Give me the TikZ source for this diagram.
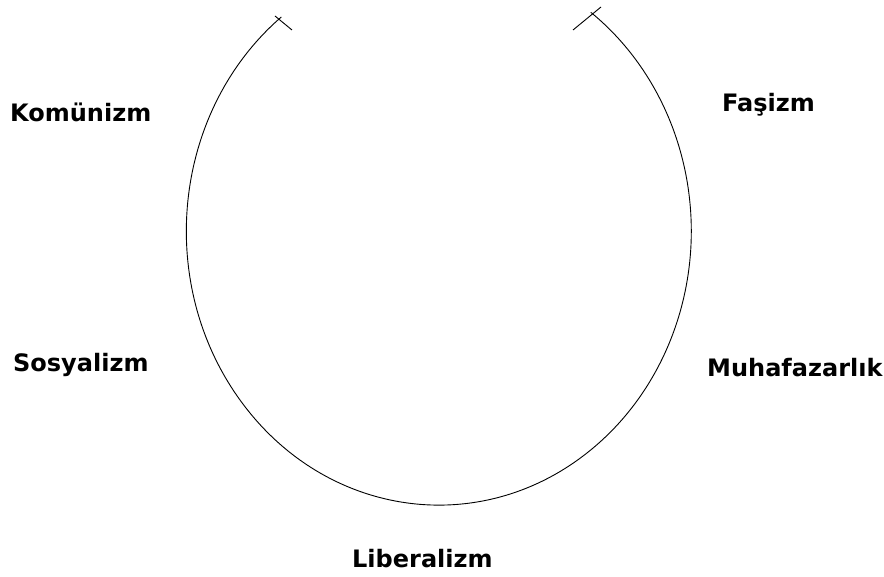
\documentclass[tikz,border=0pt]{standalone}
\usepackage{fontspec}
\setmainfont{DejaVu Sans}
\begin{document}
\begin{tikzpicture}[x=1pt,y=1pt,
  lbl/.style={anchor=base west,inner sep=0pt,font=\fontsize{24}{28}\selectfont\bfseries},
  curve/.style={line width=0.9pt,black}]
\useasboundingbox (0,0) rectangle (884,-577);
\fill[white] (0,0) rectangle (884,-577);
\coordinate (L) at (281.3,-17);
\coordinate (R) at (590.5,-14);
\draw[curve] (L) arc[start angle=128.6, end angle=413, x radius=252.5pt, y radius=274pt];
\coordinate (Lt1) at (275,-16);
\coordinate (Lt2) at (292,-30);
\coordinate (Rt1) at (573,-30);
\coordinate (Rt2) at (601,-7);
\draw[curve] (Lt1) -- (Lt2);
\draw[curve] (Rt1) -- (Rt2);
\node[lbl] (kom) at (10,-122) {Komünizm};
\node[lbl] (fas) at (722,-112) {Faşizm};
\node[lbl] (sos) at (13,-372) {Sosyalizm};
\node[lbl] (muh) at (707,-377) {Muhafazarlık};
\node[lbl] (lib) at (352,-567) {Liberalizm};
\end{tikzpicture}
\end{document}
